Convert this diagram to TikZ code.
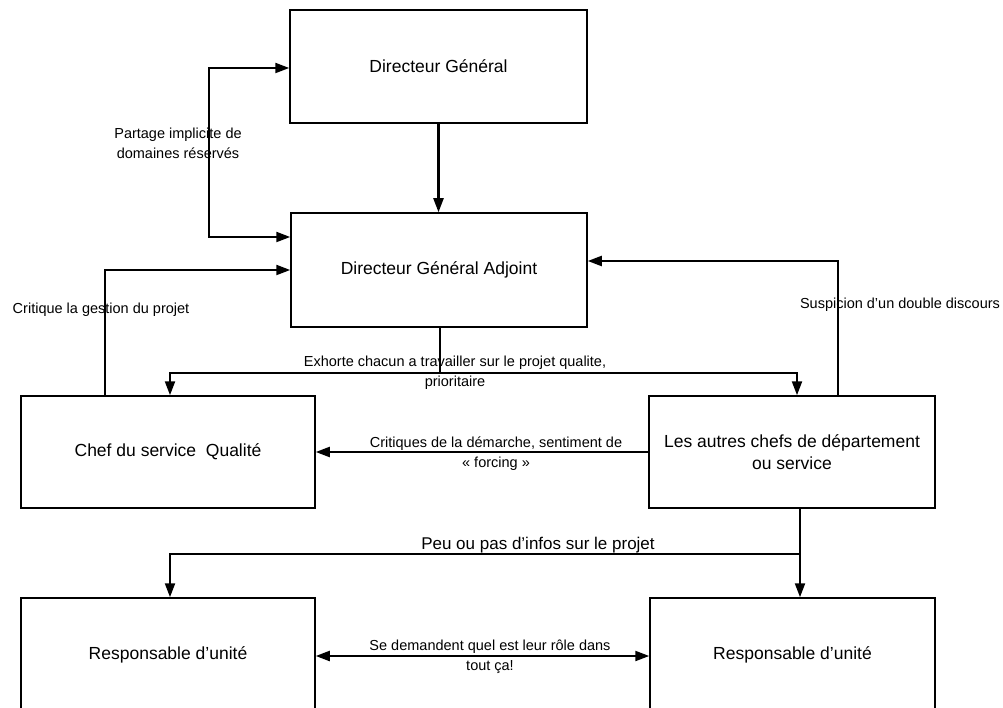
\documentclass[tikz,border=0pt]{standalone}
\usepackage{fontspec}
\setmainfont{Liberation Sans}
\usetikzlibrary{arrows.meta}
\begin{document}
\begin{tikzpicture}[x=1pt,y=-1pt,
  box/.style={draw, line width=1.5pt, inner sep=0pt, align=center,
    font=\fontsize{17.5}{22}\selectfont},
  conn/.style={line width=2.2pt},
  tip/.style={-{Triangle[length=14pt,width=10pt]}},
  dtip/.style={{Triangle[length=14pt,width=10pt]}-{Triangle[length=14pt,width=10pt]}},
  lab/.style={inner sep=0pt, align=center, font=\fontsize{14.5}{20}\selectfont},
  biglab/.style={inner sep=0pt, align=center, font=\fontsize{17}{21}\selectfont}]
\useasboundingbox (0,0) rectangle (1003,708);
\fill[white] (0,0) rectangle (1003,708);
\clip (0,0) rectangle (1003,708);

% boxes
\node[box, minimum width=297pt, minimum height=113pt] (dg) at (438.5,66.5) {Directeur Général};
\node[box, minimum width=296pt, minimum height=114pt] (dga) at (439,270) {Directeur Général Adjoint};
\node[box, minimum width=294pt, minimum height=112pt] (chef) at (168,452) {Chef du service\ \ Qualité};
\node[box, minimum width=286pt, minimum height=112pt] (autres) at (792,452) {Les autres chefs de département\\ou service};
\node[box, minimum width=294pt, minimum height=113pt] (r1) at (168,654.5) {Responsable d’unité};
\node[box, minimum width=285pt, minimum height=113pt] (r2) at (792.5,654.5) {Responsable d’unité};

% connectors
\draw[conn, dtip] (dg.west |- 0,68) -- (209,68) -- (209,237) -- (dga.west |- 0,237);
\draw[conn, tip] (dg.south) -- (dg.south |- dga.north);
\draw[conn, tip] (chef.north -| 105,0) -- (105,270) -- (dga.west |- 0,270);
\draw[conn, tip] (autres.north -| 838,0) -- (838,261) -- (dga.east |- 0,261);
\coordinate (ex) at (440,373);
\draw[conn] (dga.south -| ex) -- (ex);
\draw[conn, tip] (ex) -- (170,373) -- (chef.north -| 170,0);
\draw[conn, tip] (ex) -- (797,373) -- (autres.north -| 797,0);
\draw[conn, tip] (autres.west) -- (chef.east);
\coordinate (pj) at (800,554);
\draw[conn] (autres.south -| pj) -- (pj);
\draw[conn, tip] (pj) -- (170,554) -- (r1.north -| 170,0);
\draw[conn, tip] (pj) -- (r2.north -| pj);
\draw[conn, dtip] (r1.east |- 0,656) -- (r2.west |- 0,656);

% labels
\node[lab] (l1) at (178,143) {Partage implicite de\\domaines réservés};
\node[lab] (l2) at (101,310) {Critique la gestion du projet};
\node[lab] (l3) at (900,305) {Suspicion d’un double discours};
\node[lab] (l4) at (455,373) {Exhorte chacun a travailler sur le projet qualite,\\prioritaire};
\node[lab] (l5) at (496,454) {Critiques de la démarche, sentiment de\\« forcing »};
\node[biglab] (l6) at (538,545) {Peu ou pas d’infos sur le projet};
\node[lab] (l7) at (490,657) {Se demandent quel est leur rôle dans\\tout ça!};
\end{tikzpicture}
\end{document}
